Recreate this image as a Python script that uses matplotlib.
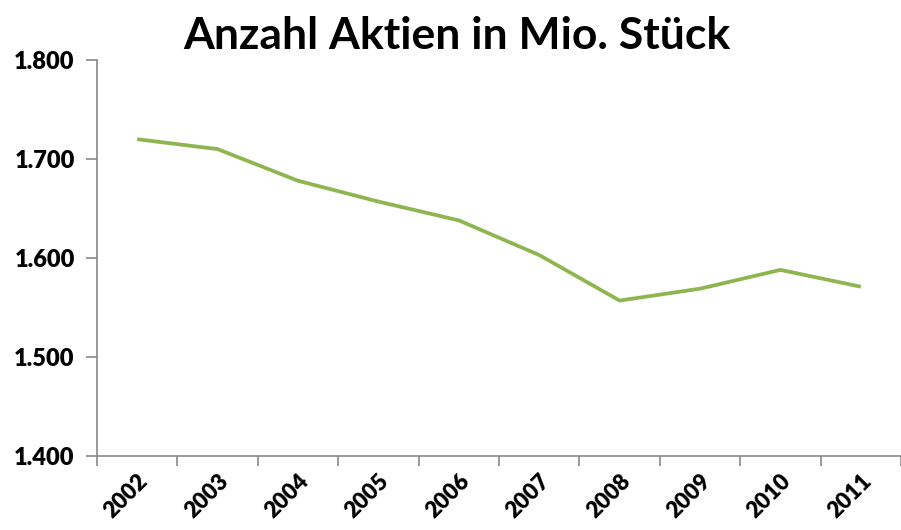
import numpy as np
import matplotlib
matplotlib.use("Agg")
import matplotlib.pyplot as plt

# data
years = ['2002', '2003', '2004', '2005', '2006', '2007', '2008', '2009', '2010', '2011']
shares = [1.720, 1.710, 1.678, 1.657, 1.638, 1.603, 1.557, 1.569, 1.588, 1.571]
y_ticks = [1.4, 1.5, 1.6, 1.7, 1.8]
y_tick_labels = ['1.400', '1.500', '1.600', '1.700', '1.800']

plt.rcParams['font.family'] = ['Lato', 'DejaVu Sans']

fig = plt.figure(figsize=(9.01, 5.30), dpi=100)
ax = fig.add_axes([97 / 901, (530 - 456) / 530, 1 - 97 / 901, (456 - 60) / 530])

x = np.arange(len(years))
ax.plot(x, shares, color='#8db550', linewidth=2.7, solid_capstyle='butt')

ax.set_ylim(1.4, 1.8)
ax.set_yticks(y_ticks)
ax.set_yticklabels(y_tick_labels, fontsize=17, fontweight='heavy')

# ticks sit between categories, labels at category centres
ax.set_xlim(-0.5, -0.5 + (901 - 97) / 81.5)
ax.set_xticks(np.arange(-0.5, len(years), 1.0))
ax.set_xticklabels([])
ax.set_xticks(x, minor=True)
ax.set_xticklabels(years, minor=True, rotation=45, ha='right', va='top',
                   rotation_mode='anchor', fontsize=16, fontweight='heavy')
ax.tick_params(axis='x', which='minor', length=0, pad=10)
ax.tick_params(axis='x', which='major', length=7, color='#898989', width=1.2)
ax.tick_params(axis='y', length=8, color='#898989', width=1.2, pad=8)

for side in ['top', 'right']:
    ax.spines[side].set_visible(False)
for side in ['left', 'bottom']:
    ax.spines[side].set_color('#898989')
    ax.spines[side].set_linewidth(1.2)

fig.text(0.507, 0.932, 'Anzahl Aktien in Mio. Stück', ha='center', va='center',
         fontsize=32, fontweight='bold')

fig.savefig('out.png', dpi=100)
